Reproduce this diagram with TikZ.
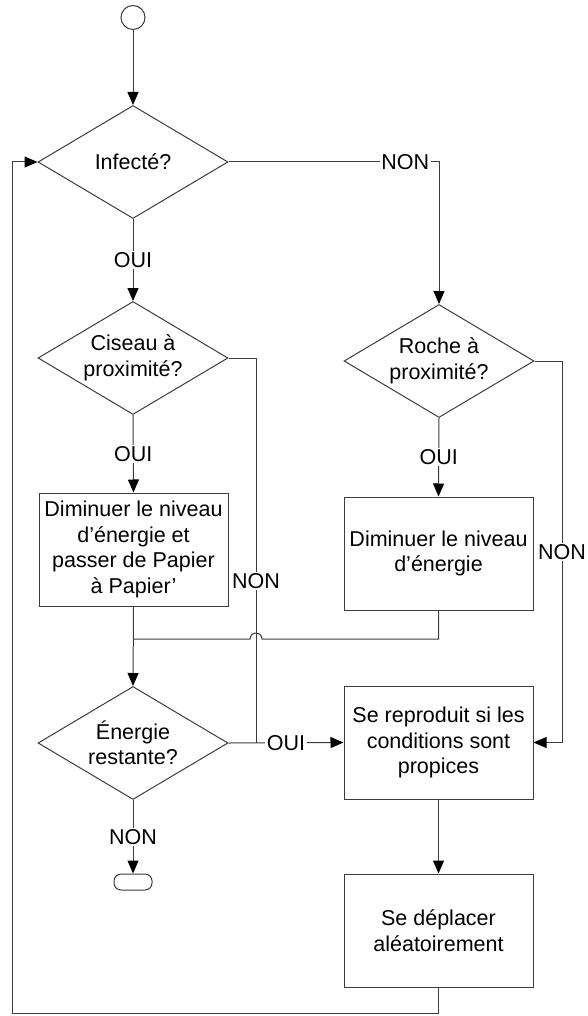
\documentclass[tikz,border=0pt]{standalone}
\usepackage{fontspec}
\setmainfont{Liberation Sans}
\usetikzlibrary{shapes.geometric,arrows.meta}
\definecolor{linec}{RGB}{60,60,60}
\begin{document}
\begin{tikzpicture}[x=1pt,y=-1pt,
  font=\fontsize{21.5}{25.5}\selectfont,
  decision/.style={diamond,draw=linec,line width=1pt,inner sep=0pt,aspect=1.68,
    minimum width=190pt,minimum height=113pt,align=center},
  process/.style={rectangle,draw=linec,line width=1pt,minimum width=189pt,
    minimum height=113pt,align=center,inner sep=0pt},
  arr/.style={-{Triangle[length=13pt,width=11pt,fill=black,color=black]},line width=1pt,draw=linec},
  lbl/.style={fill=white,inner sep=1.5pt,text=black},
  plain/.style={line width=1pt,draw=linec}]
\useasboundingbox (0,0) rectangle (587,1016);

% start / end
\node[circle,draw=linec,line width=1pt,minimum size=24pt,inner sep=0pt] (start) at (133,17.5) {};
\node[rectangle,rounded corners=7pt,draw=linec,line width=1pt,minimum width=38pt,
  minimum height=16pt,inner sep=0pt] (term) at (133,882) {};

% decisions
\node[decision] (d1) at (133,162) {Infecté?};
\node[decision] (d2) at (133,358) {Ciseau à\\proximité?};
\node[decision] (d3) at (133,743) {Énergie\\restante?};
\node[decision] (d4) at (439,361) {Roche à\\proximité?};

% actions
\node[process] (b1) at (133.5,549.5) {Diminuer le niveau\\d’énergie et\\passer de Papier\\à Papier’};
\node[process] (b2) at (438.5,553.5) {Diminuer le niveau\\d’énergie};
\node[process] (b3) at (438.5,742.5) {Se reproduit si les\\conditions sont\\propices};
\node[process] (b4) at (438.5,930.5) {Se déplacer\\aléatoirement};

% helper points for routed connectors
\coordinate (merge) at (256,743);
\coordinate (rx) at (562,0);
\coordinate (jn) at (133,639);
\coordinate (loop) at (12,1013);

% main flow
\draw[arr] (start) -- (d1.north);
\draw[arr] (d1.south) -- node[lbl]{OUI} (d2.north);
\draw[arr] (d1.east) -- node[lbl,pos=0.84]{NON} (d1.east -| d4.north) -- (d4.north);
\draw[arr] (d2.south) -- node[lbl]{OUI} (b1.north);
\draw[arr] (d4.south) -- node[lbl]{OUI} (b2.north);
\draw[arr] (b1.south) -- (d3.north);
\draw[plain] (d2.east) -| node[lbl,pos=0.79]{NON} (merge);
\draw[arr] (d3.east) -- node[lbl]{OUI} (b3.west);
\draw[arr] (d4.east) -- (d4.east -| rx) |- node[lbl,pos=0.25]{NON} (b3.east);
\draw[arr] (d3.south) -- node[lbl]{NON} (term.north);
\draw[plain] (b2.south) |- (262,639) arc[start angle=0,end angle=180,radius=6pt] -- (jn);
\draw[arr] (b3.south) -- (b4.north);
\draw[arr] (b4.south) |- (loop) |- (d1.west);
\end{tikzpicture}
\end{document}
